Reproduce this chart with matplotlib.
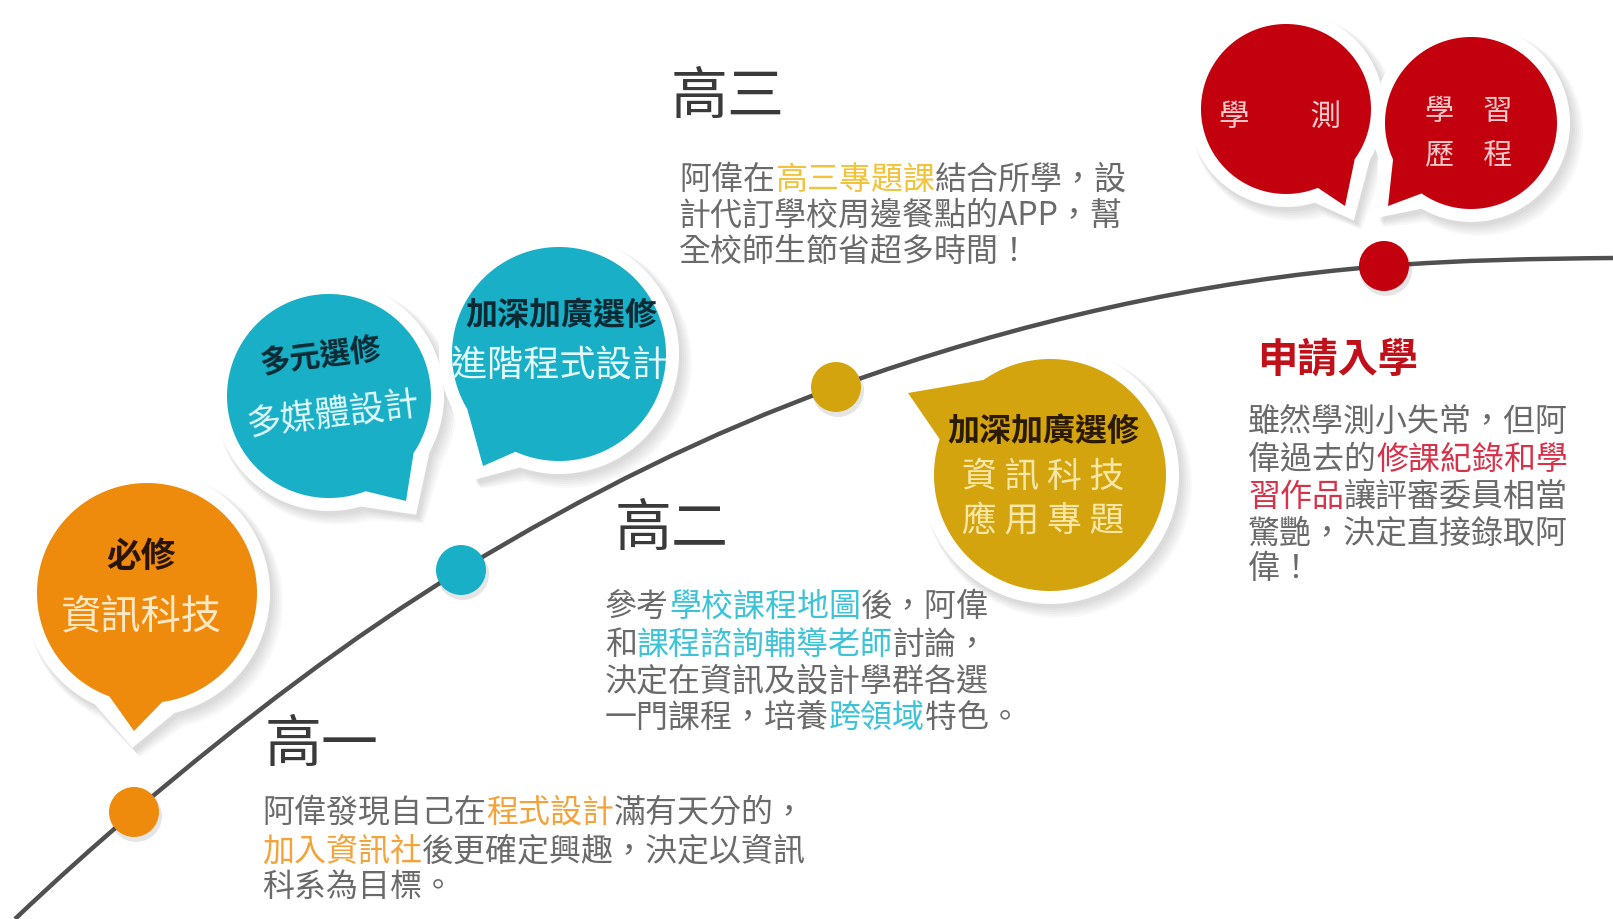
import numpy as np
import matplotlib
matplotlib.use('Agg')
import matplotlib.pyplot as plt
from matplotlib.patches import Circle, Polygon, PathPatch
from matplotlib.path import Path

plt.rcParams['font.family'] = ['Noto Sans CJK TC', 'DejaVu Sans']

W, H = 1613, 920

# 時間軸曲線: 經過的點與該處斜率
curve_x = [15, 134, 461, 836, 1384, 1613]
curve_y = [920, 813, 571, 388, 267, 259]
curve_slope = [-0.95, -0.85, -0.61, -0.36, -0.08, -0.01]

# 階段圓點
dot_x = [134, 461, 836, 1384]
dot_y = [813, 571, 388, 267]

ORANGE = '#EE8A0C'
TEAL = '#19AFC6'
GOLD = '#D4A40F'
RED = '#C2000E'
dot_colors = [ORANGE, TEAL, GOLD, RED]

# 對話框
bubble_cx = [147, 329, 559, 1050, 1286, 1471]
bubble_cy = [594, 397, 355, 476, 110, 124]
bubble_r = [110, 102, 107, 116, 85, 86]
bubble_a = [(82, 110), (34, 69), (114, 149), (198, 235), (36, 68), (125, 155)]
bubble_tip = [(134, 732), (406, 502), (483, 467), (908, 394), (1345, 207), (1388, 207)]
bubble_colors = [ORANGE, TEAL, TEAL, GOLD, RED, RED]

# 標題
titles = ['高一', '高二', '高三']
title_x = [265, 615, 671]
title_y = [746, 530, 98]

GRAY = '#6A6A6A'
HL_O = '#F3A33A'
HL_T = '#3CC3D8'
HL_G = '#F2C23A'
HL_R = '#D6334A'

para1 = [[('阿偉發現自己在', GRAY), ('程式設計', HL_O), ('滿有天分的，', GRAY)],
         [('加入資訊社', HL_O), ('後更確定興趣，決定以資訊', GRAY)],
         [('科系為目標。', GRAY)]]
para2 = [[('參考', GRAY), ('學校課程地圖', HL_T), ('後，阿偉', GRAY)],
         [('和', GRAY), ('課程諮詢輔導老師', HL_T), ('討論，', GRAY)],
         [('決定在資訊及設計學群各選', GRAY)],
         [('一門課程，培養', GRAY), ('跨領域', HL_T), ('特色。', GRAY)]]
para3 = [[('阿偉在', GRAY), ('高三專題課', HL_G), ('結合所學，設', GRAY)],
         [('計代訂學校周邊餐點的APP，幫', GRAY)],
         [('全校師生節省超多時間！', GRAY)]]
para4 = [[('雖然學測小失常，但阿', GRAY)],
         [('偉過去的', GRAY), ('修課紀錄和學', HL_R)],
         [('習作品', HL_R), ('讓評審委員相當', GRAY)],
         [('驚艷，決定直接錄取阿', GRAY)],
         [('偉！', GRAY)]]

fig = plt.figure(figsize=(W / 100, H / 100), dpi=100)
ax = fig.add_axes([0, 0, 1, 1])
ax.set_xlim(0, W)
ax.set_ylim(H, 0)
ax.axis('off')
renderer = fig.canvas.get_renderer()


def bubble_shape(cx, cy, r, a1, a2, tip):
    t = np.radians(np.linspace(a2, a1 + 360, 240))
    pts = np.column_stack([cx + r * np.cos(t), cy + r * np.sin(t)])
    return np.vstack([pts, [tip]])


def draw_bubble(cx, cy, r, a, tip, color):
    v = np.array(tip) - np.array([cx, cy])
    v = v / np.hypot(*v)
    border = 13
    tip_w = (tip[0] + v[0] * 17, tip[1] + v[1] * 17)
    # 陰影
    for k in range(6):
        sh = bubble_shape(cx + 3 + k, cy + 4 + k, r + border + k, a[0] - 5, a[1] + 5,
                          (tip_w[0] + 3 + k, tip_w[1] + 4 + k))
        ax.add_patch(Polygon(sh, closed=True, fc='black', ec='none', alpha=0.025, zorder=3))
    ax.add_patch(Polygon(bubble_shape(cx, cy, r + border, a[0] - 5, a[1] + 5, tip_w),
                         closed=True, fc='white', ec='none', zorder=4))
    ax.add_patch(Polygon(bubble_shape(cx, cy, r, a[0], a[1], tip),
                         closed=True, fc=color, ec='none', zorder=5))


def rich_line(x, y, segments, size):
    for text, color in segments:
        t = ax.text(x, y, text, fontsize=size, color=color, fontweight='light',
                    ha='left', va='center', zorder=7)
        x += t.get_window_extent(renderer).width


# 曲線 (三次貝茲)
verts = [(curve_x[0], curve_y[0])]
codes = [Path.MOVETO]
for i in range(len(curve_x) - 1):
    dx = (curve_x[i + 1] - curve_x[i]) / 3
    verts += [(curve_x[i] + dx, curve_y[i] + curve_slope[i] * dx),
              (curve_x[i + 1] - dx, curve_y[i + 1] - curve_slope[i + 1] * dx),
              (curve_x[i + 1], curve_y[i + 1])]
    codes += [Path.CURVE4] * 3
ax.add_patch(PathPatch(Path(verts, codes), fc='none', ec='#505050', lw=3.2, zorder=2))

# 對話框
for i in range(len(bubble_cx)):
    draw_bubble(bubble_cx[i], bubble_cy[i], bubble_r[i], bubble_a[i], bubble_tip[i], bubble_colors[i])

# 圓點
for x, y, c in zip(dot_x, dot_y, dot_colors):
    ax.add_patch(Circle((x + 2, y + 4), 26, fc='black', ec='none', alpha=0.10, zorder=5))
    ax.add_patch(Circle((x, y), 25, fc=c, ec='none', zorder=6))

# 對話框文字
ax.text(141, 557, '必修', fontsize=25, fontweight='bold', color='#2A1505', ha='center', va='center', zorder=7)
ax.text(141, 617, '資訊科技', fontsize=29, color='#FFE8C6', ha='center', va='center', zorder=7)
ax.text(320, 356, '多元選修', fontsize=22, fontweight='bold', color='#0C2A34', ha='center', va='center', rotation=7, zorder=7)
ax.text(333, 416, '多媒體設計', fontsize=25, color='#E4FAFD', ha='center', va='center', rotation=7, zorder=7)
ax.text(561, 316, '加深加廣選修', fontsize=23, fontweight='bold', color='#0C2A34', ha='center', va='center', zorder=7)
ax.text(559, 366, '進階程式設計', fontsize=26, color='#E4FAFD', ha='center', va='center', zorder=7)
ax.text(1043, 432, '加深加廣選修', fontsize=23, fontweight='bold', color='#2A1A00', ha='center', va='center', zorder=7)
ax.text(1043, 477, '資 訊 科 技', fontsize=25, color='#F7E7A8', ha='center', va='center', zorder=7)
ax.text(1043, 522, '應 用 專 題', fontsize=25, color='#F7E7A8', ha='center', va='center', zorder=7)
ax.text(1280, 117, '學　　測', fontsize=22, color='#F6CACA', ha='center', va='center', zorder=7)
ax.text(1469, 112, '學　習', fontsize=21, color='#F6CACA', ha='center', va='center', zorder=7)
ax.text(1469, 155, '歷　程', fontsize=21, color='#F6CACA', ha='center', va='center', zorder=7)

# 標題
for t, x, y in zip(titles, title_x, title_y):
    ax.text(x, y, t, fontsize=41, fontweight='light', color='#3A3A3A', ha='left', va='center', zorder=7)
ax.text(1257, 360, '申請入學', fontsize=29, fontweight='bold', color='#C0101A', ha='left', va='center', zorder=7)

# 段落
for lines, x0, ys in [(para1, 262, [813, 851, 887]),
                      (para2, 605, [607, 645, 681, 718]),
                      (para3, 679, [180, 216, 252]),
                      (para4, 1248, [422, 460, 497, 533, 569])]:
    for segs, y in zip(lines, ys):
        rich_line(x0, y, segs, 23)

fig.savefig('out.png', dpi=100, facecolor='white')
